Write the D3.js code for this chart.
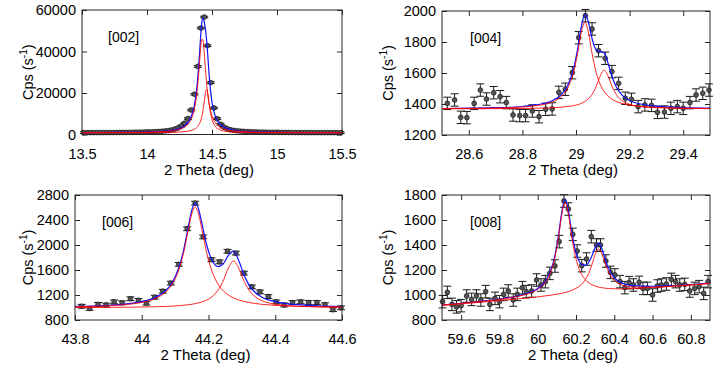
<!DOCTYPE html>
<html>
<head>
<meta charset="utf-8">
<script src="https://cdn.jsdelivr.net/npm/d3@7"></script>
<style>
  body { margin: 0; background: #fff; }
  svg { display: block; font-family: "Liberation Sans", Arial, sans-serif; }
</style>
</head>
<body>
<div id="chart"></div>
<script>
// ---------- [002] ----------
const p002X = [13.515,13.54,13.565,13.59,13.615,13.64,13.665,13.69,13.715,13.74,
  13.765,13.79,13.815,13.84,13.865,13.89,13.915,13.94,13.965,13.99,
  14.015,14.04,14.065,14.09,14.115,14.14,14.165,14.19,14.215,14.24,
  14.265,14.29,14.315,14.34,14.365,14.39,14.415,14.44,14.465,14.49,
  14.515,14.54,14.565,14.59,14.615,14.64,14.665,14.69,14.715,14.74,
  14.765,14.79,14.815,14.84,14.865,14.89,14.915,14.94,14.965,14.99,
  15.015,15.04,15.065,15.09,15.115,15.14,15.165,15.19,15.215,15.24,
  15.265,15.29,15.315,15.34,15.365,15.39,15.415,15.44,15.465,15.49];
const p002Y = [900,880,910,890,920,900,930,920,940,950,
  960,970,990,1010,1030,1060,1090,1120,1160,1200,
  1250,1310,1380,1460,1560,1700,1900,2200,2600,3200,
  4100,5500,7700,11800,19400,32800,51300,56600,42800,25000,
  12800,7600,5000,3600,2800,2300,2000,1800,1650,1520,
  1420,1340,1280,1220,1180,1140,1100,1070,1050,1030,
  1010,990,980,960,950,940,930,920,910,910,
  900,890,890,880,880,870,870,860,860,860];
const fit002X = [13.5,13.8,14.0,14.1,14.2,14.25,14.3,14.33,14.36,14.38,14.4,14.41,14.42,14.43,14.44,
  14.45,14.46,14.47,14.48,14.5,14.52,14.55,14.6,14.65,14.7,14.8,15.0,15.2,15.5];
const fit002Red1 = [866,943,1109,1325,1883,2562,4129,6272,11092,18063,31131,39482,45684,45684,39482,
  31131,23700,18063,14003,8993,6272,4129,2562,1883,1530,1195,970,893,848];
const fit002Red2 = [818,838,878,928,1044,1174,1440,1759,2385,3197,4770,6130,8189,11300,15662,
  20216,21693,18536,13787,7262,4359,2580,1586,1237,1077,940,856,830,815];
const fit002Blue = [884,981,1187,1453,2127,2936,4769,7231,12677,20460,35101,44812,53073,56184,54344,
  50547,44593,35799,26990,15455,9831,5909,3348,2320,1807,1335,1026,923,863];
const xTicks002 = [13.5,14,14.5,15,15.5];
const yTicks002 = [0,20000,40000,60000];

// ---------- [004] ----------
const p004X = [28.52,28.547,28.57,28.593,28.62,28.643,28.666,28.693,28.717,28.74,
  28.765,28.79,28.812,28.837,28.862,28.887,28.911,28.936,28.96,28.986,
  29.01,29.035,29.06,29.084,29.109,29.134,29.159,29.184,29.207,29.232,
  29.257,29.282,29.304,29.33,29.354,29.378,29.4,29.425,29.448,29.473,29.496];
const p004Y = [1404,1426,1314,1312,1404,1490,1432,1473,1447,1409,
  1329,1325,1325,1355,1318,1366,1368,1475,1495,1602,
  1828,1970,1884,1744,1695,1609,1533,1437,1430,1383,
  1394,1391,1346,1348,1372,1383,1372,1409,1458,1469,1490];
const fit004X = [28.5,28.6,28.7,28.8,28.85,28.9,28.94,28.97,28.99,29.005,29.02,29.033,29.045,
  29.06,29.075,29.09,29.105,29.12,29.135,29.15,29.17,29.2,29.25,29.3,29.4,29.5];
const fit004Red1 = [1371,1372,1374,1381,1389,1406,1441,1506,1599,1717,1863,1928,1872,
  1726,1605,1528,1480,1450,1430,1416,1404,1393,1383,1378,1373,1371];
const fit004Red2 = [1369,1369,1370,1371,1373,1375,1379,1384,1389,1395,1404,1416,1432,
  1462,1512,1579,1618,1579,1512,1462,1424,1398,1382,1376,1372,1370];
const fit004Blue = [1371,1373,1376,1384,1394,1413,1452,1522,1620,1744,1900,1976,1936,
  1821,1749,1739,1730,1661,1574,1511,1460,1423,1397,1386,1377,1373];
const xTicks004 = [28.6,28.8,29,29.2,29.4];
const yTicks004 = [1200,1400,1600,1800,2000];

// ---------- [006] ----------
const p006X = [43.82,43.844,43.869,43.893,43.917,43.941,43.966,43.99,44.014,44.039,
  44.063,44.087,44.111,44.136,44.16,44.184,44.209,44.233,44.257,44.282,
  44.306,44.33,44.354,44.379,44.403,44.427,44.452,44.476,44.5,44.525,
  44.549,44.573,44.597];
const p006Y = [1020,985,1050,1040,1090,1075,1140,1115,1070,1165,
  1260,1390,1690,2260,2670,2130,1765,1730,1900,1870,
  1550,1330,1250,1175,1090,1040,1080,1090,1080,1080,
  1045,965,995];
const fit006X = [43.8,43.9,43.95,44.0,44.04,44.07,44.09,44.11,44.125,44.14,44.15,44.16,44.17,44.18,44.195,
  44.21,44.23,44.245,44.26,44.275,44.29,44.305,44.32,44.34,44.36,44.39,44.43,44.5,44.6];
const fit006Red1 = [1013,1029,1046,1081,1142,1239,1362,1585,1866,2256,2501,2605,2501,2256,1866,
  1585,1362,1263,1198,1154,1122,1099,1081,1064,1051,1038,1026,1015,1007];
const fit006Red2 = [999,1002,1004,1008,1012,1018,1022,1029,1036,1045,1052,1062,1074,1089,1121,
  1171,1288,1438,1634,1745,1634,1438,1288,1171,1109,1062,1034,1014,1004];
const fit006Blue = [1017,1036,1055,1094,1159,1261,1389,1619,1907,2306,2558,2672,2580,2350,1992,
  1761,1654,1706,1837,1904,1761,1541,1374,1240,1165,1105,1065,1034,1016];
const xTicks006 = [43.8,44,44.2,44.4,44.6];
const yTicks006 = [800,1200,1600,2000,2400,2800];

// ---------- [008] ----------
const p008X = [59.503,59.528,59.552,59.576,59.6,59.629,59.655,59.68,59.703,59.728,
  59.75,59.777,59.8,59.822,59.846,59.872,59.893,59.92,59.94,59.968,
  59.994,60.017,60.04,60.063,60.09,60.112,60.137,60.16,60.183,60.206,
  60.23,60.255,60.28,60.307,60.328,60.356,60.38,60.403,60.43,60.455,
  60.477,60.5,60.53,60.55,60.573,60.6,60.625,60.646,60.672,60.698,
  60.72,60.742,60.768,60.794,60.82,60.843,60.867,60.89];
const p008Y = [947,1021,925,905,915,992,965,992,960,1027,
  925,973,947,1005,1032,960,1005,1059,1027,1032,
  1120,1080,1107,1173,1232,1427,1752,1688,1485,1352,
  1235,1288,1467,1400,1400,1272,1181,1160,1107,1059,
  1099,1080,1101,1053,1053,1000,1072,1080,1088,1125,
  1107,1080,1085,1032,1053,1067,1013,1107];
const fit008X = [59.5,59.6,59.7,59.8,59.9,59.95,60.0,60.04,60.07,60.09,60.11,60.125,60.143,60.16,60.175,60.19,
  60.21,60.23,60.25,60.27,60.285,60.3,60.318,60.335,60.35,60.37,60.4,60.44,60.5,60.6,60.7,60.8,60.9];
const fit008Red1 = [919,933,948,965,990,1010,1045,1102,1191,1301,1476,1635,1740,1650,1494,1358,
  1235,1163,1121,1094,1081,1072,1063,1058,1055,1052,1050,1049,1052,1060,1070,1081,1093];
const fit008Red2 = [916,929,942,956,970,977,985,993,999,1004,1009,1014,1020,1027,1035,1045,
  1062,1087,1125,1187,1251,1323,1368,1331,1264,1185,1117,1080,1063,1062,1070,1081,1092];
const fit008Blue = [920,934,950,968,994,1016,1052,1112,1204,1316,1493,1656,1765,1679,1530,1401,
  1293,1244,1237,1270,1319,1379,1415,1370,1298,1213,1139,1096,1075,1070,1075,1084,1095];
const xTicks008 = [59.6,59.8,60,60.2,60.4,60.6,60.8];
const yTicks008 = [800,1000,1200,1400,1600,1800];

// error bar half-lengths (cps)
const err002 = 400, err004 = 40, err006 = 30, err008 = 50;

const W = 720, H = 371;
const svg = d3.select("#chart").append("svg").attr("width", W).attr("height", H);

function drawPanel(p) {
  const x = d3.scaleLinear().domain(p.xDomain).range([p.left, p.right]);
  const y = d3.scaleLinear().domain(p.yDomain).range([p.bottom, p.top]);
  const g = svg.append("g");

  // axes with inward ticks on all four sides
  const bottomAx = g.append("g").attr("transform", `translate(0,${p.bottom})`)
    .call(d3.axisBottom(x).tickValues(p.xTicks).tickSizeInner(-5).tickSizeOuter(0)
      .tickPadding(14).tickFormat(d => String(d)));
  const topAx = g.append("g").attr("transform", `translate(0,${p.top})`)
    .call(d3.axisTop(x).tickValues(p.xTicks).tickSizeInner(-5).tickSizeOuter(0).tickFormat(""));
  const leftAx = g.append("g").attr("transform", `translate(${p.left},0)`)
    .call(d3.axisLeft(y).tickValues(p.yTicks).tickSizeInner(-5).tickSizeOuter(0)
      .tickPadding(6).tickFormat(d => String(d)));
  const rightAx = g.append("g").attr("transform", `translate(${p.right},0)`)
    .call(d3.axisRight(y).tickValues(p.yTicks).tickSizeInner(-5).tickSizeOuter(0).tickFormat(""));
  [bottomAx, topAx, leftAx, rightAx].forEach(a => {
    a.select(".domain").remove();
    a.selectAll("line").attr("stroke", "#262626");
    a.selectAll("text").style("font-size", "14.5px").attr("fill", "#000")
      .style("font-family", "'Liberation Sans', Arial, sans-serif");
  });

  // error bars + markers
  const pts = p.dataX.map((v, i) => ({ x: v, y: p.dataY[i] }));
  const eb = g.append("g").attr("stroke", "#1a1a1a").attr("stroke-width", 1);
  pts.forEach(d => {
    const y0 = y(d.y - p.err), y1 = y(d.y + p.err), cx = x(d.x);
    eb.append("line").attr("x1", cx).attr("x2", cx).attr("y1", y0).attr("y2", y1);
    eb.append("line").attr("x1", cx - 4).attr("x2", cx + 4).attr("y1", y0).attr("y2", y0);
    eb.append("line").attr("x1", cx - 4).attr("x2", cx + 4).attr("y1", y1).attr("y2", y1);
  });
  g.append("g").selectAll("circle").data(pts).join("circle")
    .attr("cx", d => x(d.x)).attr("cy", d => y(d.y)).attr("r", 2.4)
    .attr("fill", "#555").attr("stroke", "#111").attr("stroke-width", 0.7);

  // fitted curves
  const line = d3.line().x(d => x(d[0])).y(d => y(d[1])).curve(d3.curveMonotoneX);
  const mk = arr => p.fitX.map((v, i) => [v, arr[i]]);
  g.append("path").attr("d", line(mk(p.blue))).attr("fill", "none")
    .attr("stroke", "#1010ff").attr("stroke-width", 1.2);
  g.append("path").attr("d", line(mk(p.red1))).attr("fill", "none")
    .attr("stroke", "#ff0000").attr("stroke-width", 1).attr("stroke-opacity", 0.85);
  g.append("path").attr("d", line(mk(p.red2))).attr("fill", "none")
    .attr("stroke", "#ff0000").attr("stroke-width", 1).attr("stroke-opacity", 0.85);

  // box
  g.append("rect").attr("x", p.left).attr("y", p.top)
    .attr("width", p.right - p.left).attr("height", p.bottom - p.top)
    .attr("fill", "none").attr("stroke", "#262626").attr("stroke-width", 1);

  // peak label
  g.append("text").attr("x", p.labelX).attr("y", p.labelY)
    .style("font-size", "14px").text(p.label);

  // axis titles
  const cx = (p.left + p.right) / 2 - 3;
  g.append("text").attr("x", cx).attr("y", p.bottom + 40)
    .attr("text-anchor", "middle").style("font-size", "15px").text("2 Theta (deg)");
  const yt = g.append("text")
    .attr("transform", `translate(${p.yTitleX},${(p.top + p.bottom) / 2}) rotate(-90)`)
    .attr("text-anchor", "middle").style("font-size", "14.5px");
  yt.append("tspan").text("Cps (s");
  yt.append("tspan").attr("dy", -6).style("font-size", "10px").text("-1");
  yt.append("tspan").attr("dy", 6).text(")");
}

drawPanel({ left: 82, right: 342, top: 10, bottom: 134.5, xDomain: [13.5, 15.5], yDomain: [0, 60000],
  xTicks: xTicks002, yTicks: yTicks002, dataX: p002X, dataY: p002Y, err: err002,
  fitX: fit002X, red1: fit002Red1, red2: fit002Red2, blue: fit002Blue,
  label: "[002]", labelX: 108, labelY: 42, yTitleX: 33 });
drawPanel({ left: 442, right: 710, top: 11, bottom: 135, xDomain: [28.5, 29.5], yDomain: [1200, 2000],
  xTicks: xTicks004, yTicks: yTicks004, dataX: p004X, dataY: p004Y, err: err004,
  fitX: fit004X, red1: fit004Red1, red2: fit004Red2, blue: fit004Blue,
  label: "[004]", labelX: 470, labelY: 43, yTitleX: 393 });
drawPanel({ left: 75, right: 342, top: 195, bottom: 320, xDomain: [43.8, 44.6], yDomain: [800, 2800],
  xTicks: xTicks006, yTicks: yTicks006, dataX: p006X, dataY: p006Y, err: err006,
  fitX: fit006X, red1: fit006Red1, red2: fit006Red2, blue: fit006Blue,
  label: "[006]", labelX: 102, labelY: 227, yTitleX: 33 });
drawPanel({ left: 442, right: 710, top: 195, bottom: 320, xDomain: [59.5, 60.9], yDomain: [800, 1800],
  xTicks: xTicks008, yTicks: yTicks008, dataX: p008X, dataY: p008Y, err: err008,
  fitX: fit008X, red1: fit008Red1, red2: fit008Red2, blue: fit008Blue,
  label: "[008]", labelX: 470, labelY: 227, yTitleX: 393 });
</script>
</body>
</html>
